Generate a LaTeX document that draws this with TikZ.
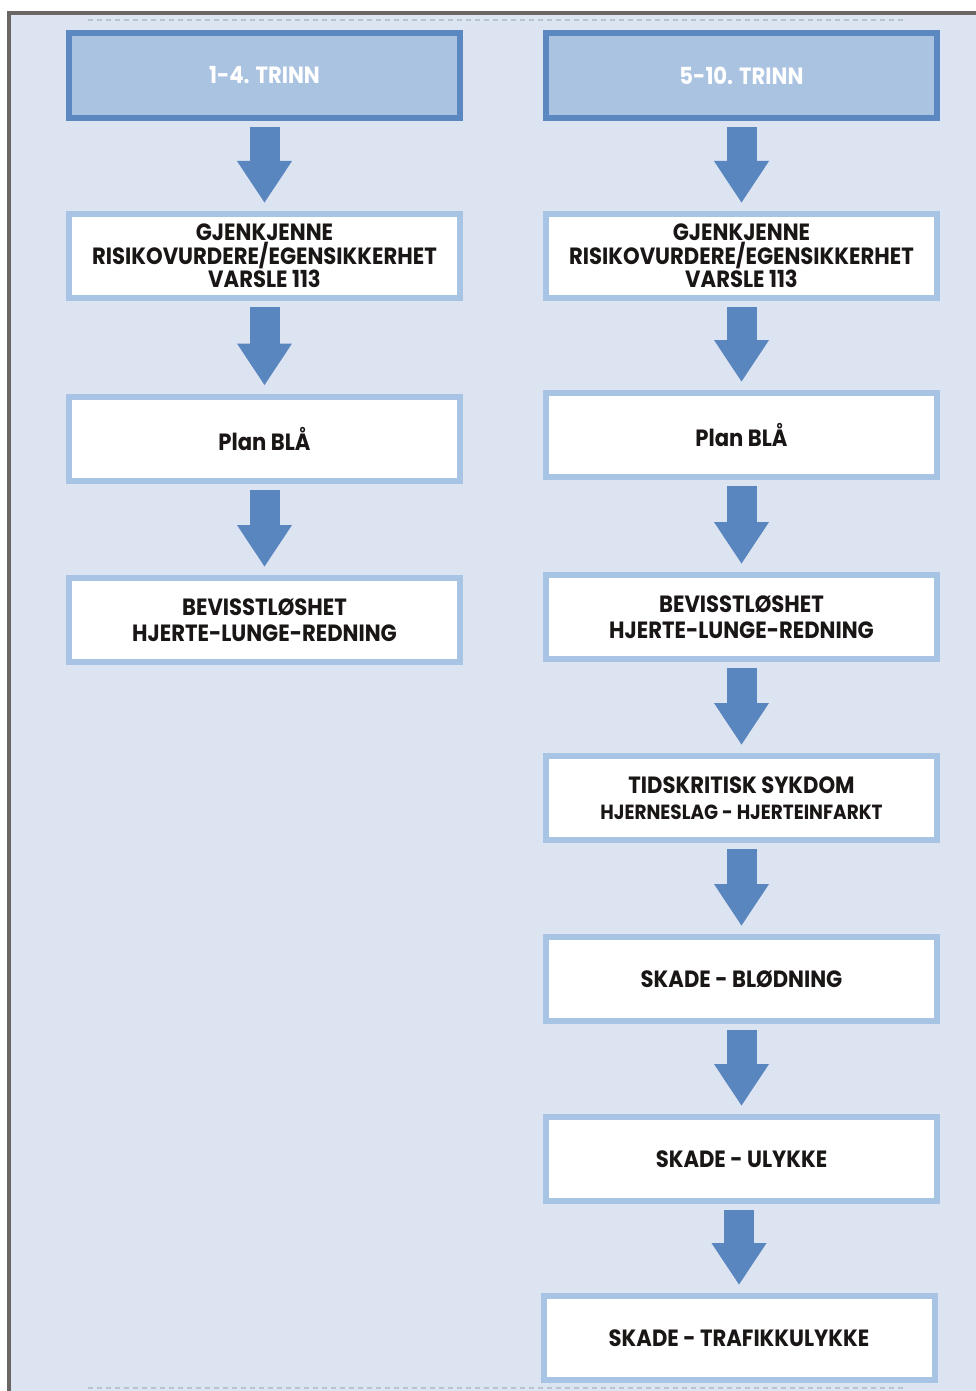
\documentclass[tikz,border=0pt]{standalone}
\usepackage{fontspec}
\setmainfont{Poppins}[FakeStretch=0.9]
\usetikzlibrary{arrows.meta}
\definecolor{bgblue}{HTML}{DCE4F2}
\definecolor{hdrfill}{HTML}{A9C3E1}
\definecolor{hdrline}{HTML}{5B88C0}
\definecolor{boxline}{HTML}{A8C4E4}
\definecolor{arrowblue}{HTML}{5A86C0}
\definecolor{framegray}{HTML}{6B6664}
\definecolor{dashgray}{HTML}{B9C2CF}
\definecolor{txt}{HTML}{1A1615}
\tikzset{
  hdr/.style={draw=hdrline, fill=hdrfill, line width=6pt, minimum width=391pt, minimum height=85pt,
    text=white, font=\bfseries\fontsize{23.5}{26}\selectfont, inner sep=0pt},
  stepbox/.style={draw=boxline, fill=white, line width=6pt, minimum width=391pt, minimum height=84pt,
    text=txt, font=\bfseries\fontsize{23.5}{23.5}\selectfont, align=center, inner sep=0pt},
  flow/.style={draw=arrowblue, line width=30pt, -{Triangle[width=52pt,length=42pt]}, shorten <=6pt, shorten >=8pt},
  dashln/.style={dashgray, line width=1.5pt, dash pattern=on 5pt off 4pt}
}
\begin{document}
\begin{tikzpicture}[x=1pt,y=-1pt]
\useasboundingbox (0,0) rectangle (976,1391);
\fill[white] (0,0) rectangle (976,1391);
\fill[bgblue] (9,13) rectangle (976,1391);
\draw[framegray, line width=4pt] (9,1391) -- (9,13) -- (976,13);
\draw[dashln] (88,20) -- (905,20);
\draw[dashln] (88,1388) -- (905,1388);
% left column
\node[hdr] (L0) at (264.5,75.5) {1-4. TRINN};
\node[stepbox] (L1) at (264.5,256) {GJENKJENNE\\RISIKOVURDERE/EGENSIKKERHET\\VARSLE 113};
\node[stepbox] (L2) at (264.5,438.5) {Plan BLÅ};
\node[stepbox] (L3) at (264.5,620) {BEVISSTLØSHET\\[2pt]HJERTE-LUNGE-REDNING};
% right column
\node[hdr] (R0) at (741.5,75.5) {5-10. TRINN};
\node[stepbox] (R1) at (741.5,256) {GJENKJENNE\\RISIKOVURDERE/EGENSIKKERHET\\VARSLE 113};
\node[stepbox] (R2) at (741.5,435) {Plan BLÅ};
\node[stepbox] (R3) at (741.5,617) {BEVISSTLØSHET\\[2pt]HJERTE-LUNGE-REDNING};
\node[stepbox] (R4) at (741.5,798) {TIDSKRITISK SYKDOM\\[2pt]{\fontsize{20.5}{22}\selectfont HJERNESLAG - HJERTEINFARKT}};
\node[stepbox] (R5) at (741.5,979) {SKADE - BLØDNING};
\node[stepbox] (R6) at (741.5,1159) {SKADE - ULYKKE};
\node[stepbox] (R7) at (739,1338) {SKADE - TRAFIKKULYKKE};
% arrows
\foreach \a/\b in {L0/L1,L1/L2,L2/L3,R0/R1,R1/R2,R2/R3,R3/R4,R4/R5,R5/R6,R6/R7}
  \draw[flow] (\a.south -| \b.north) -- (\b.north);
\end{tikzpicture}
\end{document}
